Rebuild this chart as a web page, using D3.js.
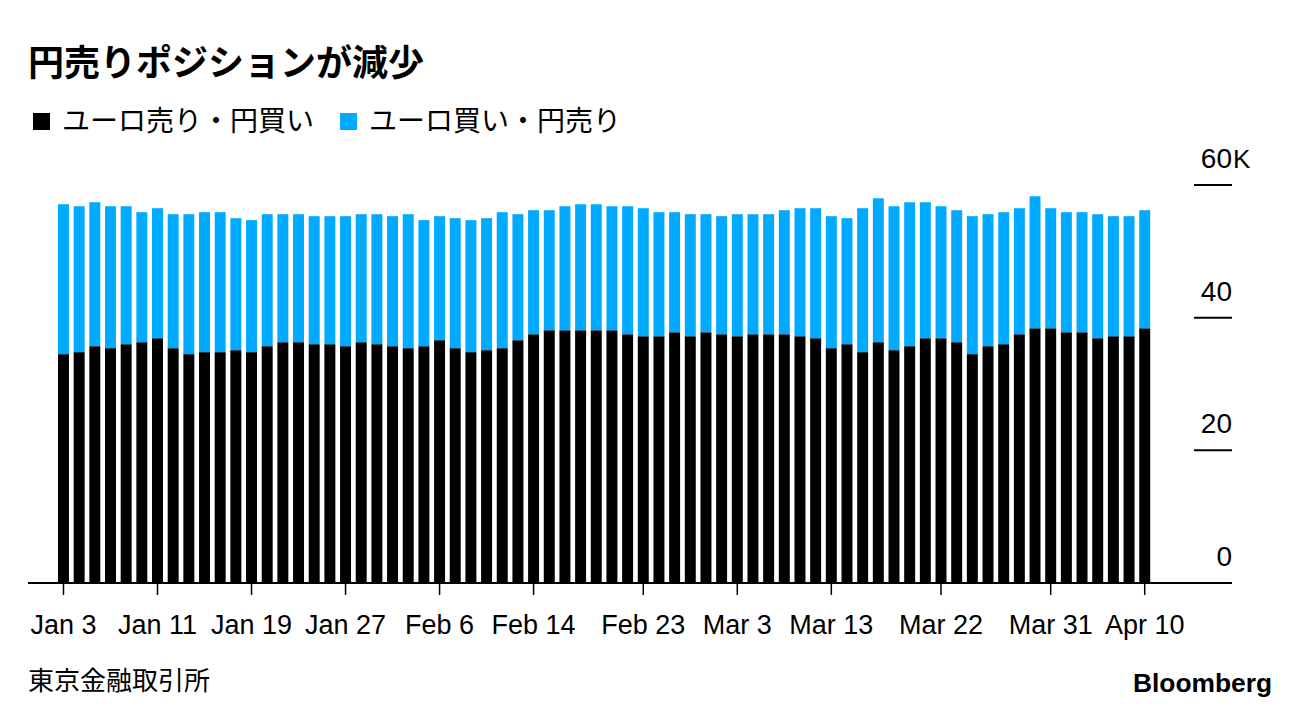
<!DOCTYPE html>
<html>
<head>
<meta charset="utf-8">
<script src="https://cdn.jsdelivr.net/npm/d3@7/dist/d3.min.js"></script>
<style>
  html, body { margin: 0; padding: 0; background: #fff; }
  svg { display: block; }
</style>
</head>
<body>
<svg id="chart" width="1296" height="718"></svg>
<script>
// ---- Data (thousands of contracts) ----
const dates = [
  "2023-01-03","2023-01-04","2023-01-05","2023-01-06","2023-01-09","2023-01-10","2023-01-11","2023-01-12","2023-01-13",
  "2023-01-16","2023-01-17","2023-01-18","2023-01-19","2023-01-20","2023-01-23","2023-01-24","2023-01-25","2023-01-26",
  "2023-01-27","2023-01-30","2023-01-31",
  "2023-02-01","2023-02-02","2023-02-03","2023-02-06","2023-02-07","2023-02-08","2023-02-09","2023-02-10","2023-02-13",
  "2023-02-14","2023-02-15","2023-02-16","2023-02-17","2023-02-20","2023-02-21","2023-02-22","2023-02-23","2023-02-24",
  "2023-02-27","2023-02-28",
  "2023-03-01","2023-03-02","2023-03-03","2023-03-06","2023-03-07","2023-03-08","2023-03-09","2023-03-10","2023-03-13",
  "2023-03-14","2023-03-15","2023-03-16","2023-03-17","2023-03-20","2023-03-21","2023-03-22","2023-03-23","2023-03-24",
  "2023-03-27","2023-03-28","2023-03-29","2023-03-30","2023-03-31",
  "2023-04-03","2023-04-04","2023-04-05","2023-04-06","2023-04-07","2023-04-10"
];
// ユーロ売り・円買い (black)
const sellEuroBuyYen = [
  34.5,34.8,35.7,35.4,36.0,36.3,36.9,35.4,34.5,34.8,
  34.8,35.1,34.8,35.7,36.3,36.3,36.0,36.0,35.7,36.3,
  36.0,35.7,35.4,35.7,36.6,35.4,34.8,35.1,35.4,36.6,
  37.5,38.1,38.1,38.1,38.1,38.1,37.5,37.2,37.2,37.8,
  37.2,37.8,37.5,37.2,37.5,37.5,37.5,37.2,36.9,35.4,
  36.0,34.8,36.3,35.1,35.7,36.9,36.9,36.3,34.5,35.7,
  36.0,37.5,38.4,38.4,37.8,37.8,36.9,37.2,37.2,38.4
];
// ユーロ買い・円売り (blue)
const buyEuroSellYen = [
  22.6,22.0,21.7,21.4,20.8,19.6,19.6,20.2,21.1,21.1,
  21.1,19.9,19.9,19.9,19.3,19.3,19.3,19.3,19.6,19.3,
  19.6,19.6,20.2,19.0,18.7,19.6,19.9,19.9,20.5,19.0,
  18.7,18.1,18.7,19.0,19.0,18.7,19.3,19.3,18.7,18.1,
  18.4,17.8,17.8,18.4,18.1,18.1,18.7,19.3,19.6,19.9,
  19.0,21.7,21.7,21.7,21.7,20.5,19.9,19.9,20.8,19.9,
  19.9,19.0,19.9,18.1,18.1,18.1,18.7,18.1,18.1,17.8
];
const tickDates = ["2023-01-03","2023-01-11","2023-01-19","2023-01-27","2023-02-06","2023-02-14",
  "2023-02-23","2023-03-03","2023-03-13","2023-03-22","2023-03-31","2023-04-10"];
const yTicks = [0, 20, 40, 60];
const seriesNames = ["ユーロ売り・円買い", "ユーロ買い・円売り"];
const seriesColors = ["#000000", "#00aaff"];

const title = "円売りポジションが減少";
const source = "東京金融取引所";

// ---- Build ----
const rows = dates.map((d, i) => ({ date: d, s0: sellEuroBuyYen[i], s1: buyEuroSellYen[i] }));
const stack = d3.stack().keys(["s0", "s1"])(rows);

const svg = d3.select("#chart");
const baseY = 583;

const x = d3.scaleBand()
  .domain(dates)
  .range([55.65, 55.65 + 70 * 15.67])
  .paddingInner(0.3)
  .paddingOuter(0.15);

const y = d3.scaleLinear().domain([0, 60]).range([baseY, 185]);

const sansFont = "'Liberation Sans', Arial, Helvetica, sans-serif";
const cjkFont = "'Noto Sans CJK JP', 'Noto Sans', sans-serif";

// Title
svg.append("text")
  .attr("x", 28).attr("y", 76)
  .attr("font-family", cjkFont)
  .attr("font-weight", 700)
  .attr("font-size", 36)
  .attr("fill", "#000")
  .text(title);

// Legend
const legendX = [33, 340];
seriesNames.forEach((name, i) => {
  const g = svg.append("g").attr("transform", `translate(${legendX[i]},113)`);
  g.append("rect").attr("width", 17).attr("height", 17).attr("fill", seriesColors[i]);
  g.append("text")
    .attr("x", 29).attr("y", 18)
    .attr("font-family", cjkFont)
    .attr("font-size", 28)
    .attr("fill", "#000")
    .text(name);
});

// Bars
svg.append("g").selectAll("g")
  .data(stack)
  .join("g")
  .attr("fill", (d, i) => seriesColors[i])
  .selectAll("rect")
  .data(d => d)
  .join("rect")
  .attr("x", d => x(d.data.date))
  .attr("width", x.bandwidth())
  .attr("y", d => y(d[1]))
  .attr("height", d => y(d[0]) - y(d[1]));

// Y axis (right side, short gridline stubs)
const yAxisG = svg.append("g");
yTicks.forEach(t => {
  if (t !== 0) {
    yAxisG.append("line")
      .attr("x1", 1194).attr("x2", 1232)
      .attr("y1", y(t)).attr("y2", y(t))
      .attr("stroke", "#000").attr("stroke-width", 2);
  }
  yAxisG.append("text")
    .attr("x", 1232).attr("y", y(t) - 17)
    .attr("text-anchor", "end")
    .attr("font-family", sansFont)
    .attr("font-size", 28)
    .attr("fill", "#000")
    .text(t);
  if (t === 60) {
    yAxisG.append("text")
      .attr("x", 1233).attr("y", y(t) - 17)
      .attr("font-family", sansFont)
      .attr("font-size", 26)
      .attr("fill", "#000")
      .text("K");
  }
});

// X axis baseline
svg.append("line")
  .attr("x1", 28).attr("x2", 1232)
  .attr("y1", baseY).attr("y2", baseY)
  .attr("stroke", "#000").attr("stroke-width", 2);

const fmt = d3.timeFormat("%b %-d");
const parse = d3.timeParse("%Y-%m-%d");
const xAxisG = svg.append("g");
tickDates.forEach(d => {
  const cx = x(d) + x.bandwidth() / 2;
  xAxisG.append("line")
    .attr("x1", cx).attr("x2", cx)
    .attr("y1", baseY).attr("y2", baseY + 12)
    .attr("stroke", "#000").attr("stroke-width", 1.5);
  xAxisG.append("text")
    .attr("x", cx).attr("y", 634)
    .attr("text-anchor", "middle")
    .attr("font-family", sansFont)
    .attr("font-size", 27)
    .attr("fill", "#000")
    .text(fmt(parse(d)));
});

// Source
svg.append("text")
  .attr("x", 28).attr("y", 690)
  .attr("font-family", cjkFont)
  .attr("font-size", 26)
  .attr("fill", "#000")
  .text(source);

// Logo
svg.append("text")
  .attr("x", 1133).attr("y", 692)
  .attr("font-family", sansFont)
  .attr("font-weight", 700)
  .attr("font-size", 25)
  .attr("textLength", 139)
  .attr("lengthAdjust", "spacingAndGlyphs")
  .attr("fill", "#000")
  .text("Bloomberg");
</script>
</body>
</html>
